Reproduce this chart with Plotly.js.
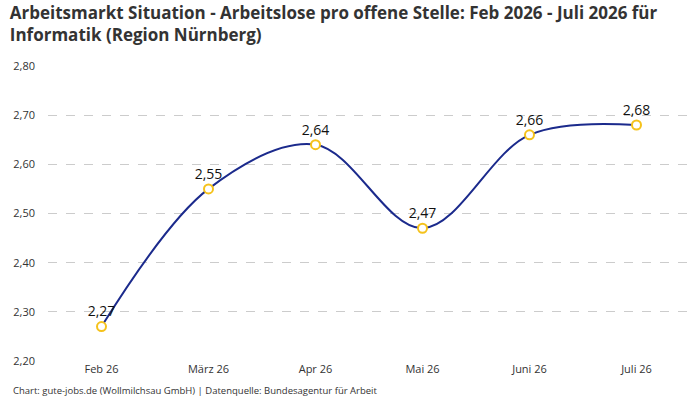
<!DOCTYPE html>
<html>
<head>
<meta charset="utf-8">
<script src="https://cdn.plot.ly/plotly-3.0.1.min.js"></script>
<style>body{margin:0;background:#fff}#chart{width:700px;height:400px}</style>
</head>
<body>
<div id="chart"></div>
<script>
const months=["Feb 26","März 26","Apr 26","Mai 26","Juni 26","Juli 26"];
const ratio=[2.27,2.55,2.64,2.47,2.66,2.68];
const yTicks=[2.2,2.3,2.4,2.5,2.6,2.7,2.8];

const font="'Open Sans', sans-serif";

const trace={
    x:months,
    y:ratio,
    type:"scatter",
    mode:"lines+markers+text",
    line:{color:"#1b2a8c",width:2,shape:"spline",smoothing:1},
    marker:{size:9,color:"#fff",line:{color:"#f5c21b",width:2}},
    texttemplate:"%{y:.2f}",
    textposition:"top center",
    textfont:{size:14,color:"#111",family:font},
    cliponaxis:false,
    hoverinfo:"skip"
};

const layout={
    width:700,
    height:400,
    separators:",.",
    paper_bgcolor:"#fff",
    plot_bgcolor:"#fff",
    showlegend:false,
    font:{family:font,color:"#333",size:11},
    margin:{l:48,r:10,t:66,b:39},
    title:{
        text:"<b>Arbeitsmarkt Situation - Arbeitslose pro offene Stelle: Feb 2026 - Juli 2026 für<br>Informatik (Region Nürnberg)</b>",
        x:0.014,xanchor:"left",y:0.952,yanchor:"top",
        font:{size:17,color:"#333",family:font}
    },
    xaxis:{
        type:"category",
        range:[-0.5,5.5],
        showgrid:false,
        zeroline:false,
        showline:false,
        ticks:"",
        tickfont:{size:11,color:"#333"}
    },
    yaxis:{
        range:[2.2,2.8],
        tickvals:yTicks,
        tickformat:".2f",
        showgrid:true,
        gridcolor:"#cccccc",
        griddash:"dash",
        zeroline:false,
        showline:false,
        ticks:"",
        ticklabelstandoff:12,
        tickfont:{size:11,color:"#333"}
    },
    annotations:[{
        text:"Chart: gute-jobs.de (Wollmilchsau GmbH) | Datenquelle: Bundesagentur für Arbeit",
        xref:"paper",yref:"paper",
        x:-0.057,y:-0.13,xanchor:"left",yanchor:"bottom",
        showarrow:false,
        font:{size:9.5,color:"#333",family:font}
    }]
};

Plotly.newPlot("chart",[trace],layout,{displayModeBar:false,staticPlot:true});
</script>
</body>
</html>
